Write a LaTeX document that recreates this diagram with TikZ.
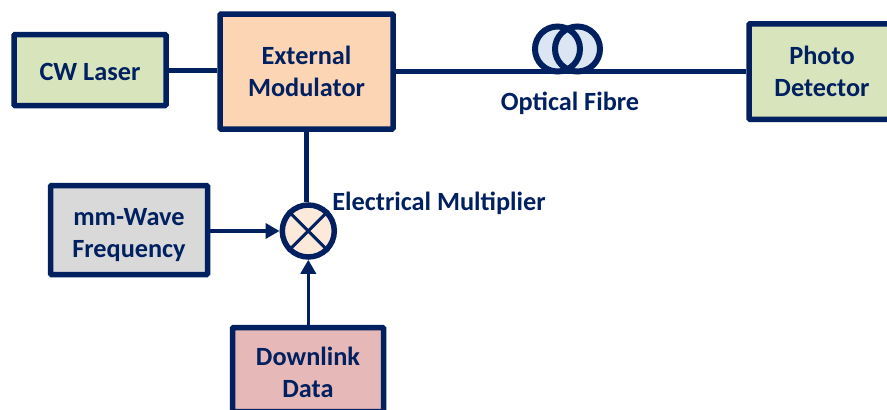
\documentclass[tikz,border=0pt]{standalone}
\usepackage{fontspec}
\setmainfont{Carlito}
\usetikzlibrary{arrows.meta}
\definecolor{navy}{RGB}{0,32,96}
\definecolor{boxgreen}{RGB}{216,228,188}
\definecolor{boxorange}{RGB}{252,213,180}
\definecolor{boxgrey}{RGB}{217,217,217}
\definecolor{boxrose}{RGB}{230,184,183}
\definecolor{mixfill}{RGB}{253,233,217}
\definecolor{fibrefill}{RGB}{220,230,242}
\newcommand{\tp}[1]{\rule{0pt}{#1pt}\ignorespaces}
\tikzset{
  x=1pt,y=-1pt,
  blockbox/.style={draw=navy,line width=5.5pt,rounded corners=1pt,inner sep=0pt,align=center,text=navy,font=\fontsize{26.3}{32}\selectfont\bfseries},
  lbl/.style={text=navy,inner sep=0pt,font=\fontsize{26.3}{30}\selectfont\bfseries},
  conn/.style={draw=navy,line width=5pt},
  arrowconn/.style={draw=navy,line width=3.5pt,-{Triangle[length=14pt,width=15pt]}},
}
\begin{document}
\begin{tikzpicture}
\useasboundingbox (0,0) rectangle (887,410);
\node[blockbox,fill=boxgreen,minimum width=152pt,minimum height=71pt] (laser) at (90,70) {\tp{21}CW Laser};
\node[blockbox,fill=boxorange,minimum width=173pt,minimum height=115pt] (mod) at (306.5,71.5) {External\\Modulator};
\node[blockbox,fill=boxgreen,minimum width=146pt,minimum height=95.5pt] (det) at (822,71.5) {\tp{18}Photo\\Detector};
\node[blockbox,fill=boxgrey,minimum width=157pt,minimum height=89pt] (mm) at (129,230) {\tp{27}mm-Wave\\Frequency};
\node[blockbox,fill=boxrose,minimum width=151pt,minimum height=84pt] (dl) at (308,369.5) {\tp{23.5}Downlink\\Data};
\node[circle,draw=navy,line width=5.5pt,fill=mixfill,minimum size=52pt,inner sep=0pt] (mix) at (308.3,231) {};
\draw[navy,line width=3pt] (mix.north west) -- (mix.south east) (mix.north east) -- (mix.south west);
\coordinate (fibreA) at (557.5,49);
\coordinate (fibreB) at (577.5,49);
\fill[fibrefill] (fibreA) circle (22.5pt) (fibreB) circle (22.5pt);
\draw[navy,line width=6pt] (fibreA) circle (22.5pt);
\draw[navy,line width=6pt] (fibreB) circle (22.5pt);
\draw[conn] (laser) -- (laser -| mod.west);
\draw[conn] (mod.east |- 0,71.5) -- (det.west |- 0,71.5);
\draw[conn] (mod.south) -- (mod.south |- mix.north);
\draw[arrowconn] (mm.east |- mix) -- (mix);
\draw[arrowconn] (dl.north -| mix) -- (mix);
\node[lbl] (fibre) at (570,103) {Optical Fibre};
\node[lbl] (mult) at (439,203) {Electrical Multiplier};
\end{tikzpicture}
\end{document}
